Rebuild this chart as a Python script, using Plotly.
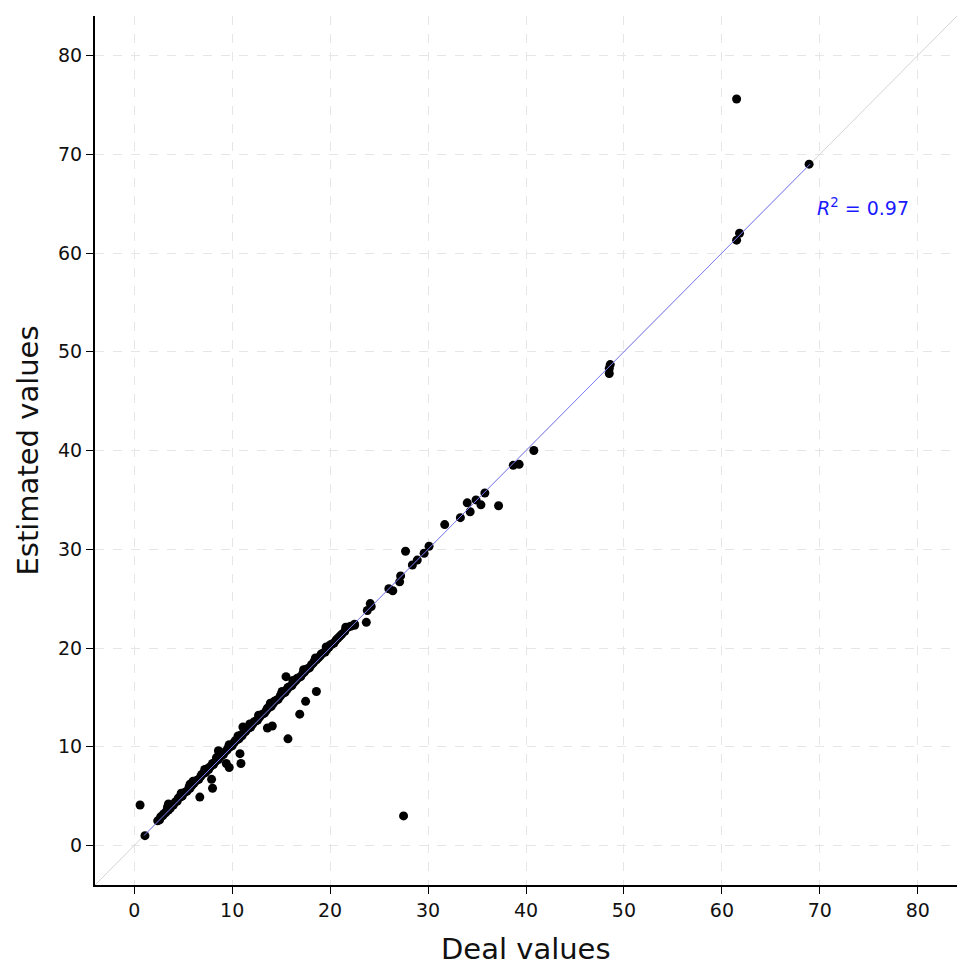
import plotly.graph_objects as go

# Dense band of points along y = x
band_x = [2.4, 2.6, 2.7, 2.9, 3.0, 3.2, 3.3, 3.5, 3.7, 3.8, 4.0, 4.2, 4.4, 4.5, 4.7, 4.9,
          5.0, 5.2, 5.4, 5.6, 5.7, 5.9, 6.1, 6.2, 6.4, 6.6, 6.8, 6.9, 7.1, 7.3, 7.5, 7.6,
          7.8, 8.0, 8.1, 8.3, 8.5, 8.6, 8.8, 9.0, 9.1, 9.3, 9.5, 9.6, 9.8, 10.0, 10.2, 10.3,
          10.5, 10.7, 10.9, 11.0, 11.2, 11.4, 11.5, 11.7, 11.9, 12.1, 12.2, 12.4, 12.6, 12.8,
          12.9, 13.1, 13.3, 13.5, 13.6, 13.8, 14.0, 14.2, 14.3, 14.5, 14.7, 14.9, 15.0, 15.2,
          15.4, 15.6, 15.7, 15.9, 16.1, 16.3, 16.5, 16.6, 16.8, 17.0, 17.2, 17.4, 17.5, 17.7,
          17.9, 18.1, 18.3, 18.4, 18.6, 18.8, 19.0, 19.1, 19.3, 19.5, 19.7, 19.9, 20.0, 20.2,
          20.4, 20.6, 20.8, 21.0, 21.2, 21.5, 21.8, 22.1, 22.5,
          3.4, 4.8, 6.0, 7.2, 8.4, 9.7, 10.6, 11.8, 12.7, 13.9, 15.1, 16.2, 17.3, 18.5, 19.6]
band_y = [2.5, 2.6, 2.9, 3.0, 3.2, 3.3, 3.5, 3.6, 3.8, 4.1, 4.1, 4.4, 4.5, 4.8, 4.9, 5.0,
          5.3, 5.4, 5.5, 5.9, 5.8, 6.1, 6.3, 6.5, 6.6, 6.7, 7.0, 7.2, 7.3, 7.4, 7.8, 7.7,
          8.0, 8.3, 8.2, 8.5, 8.8, 8.7, 9.0, 9.3, 9.2, 9.5, 9.7, 9.9, 10.0, 10.1, 10.4, 10.6,
          10.7, 10.8, 11.2, 11.1, 11.4, 11.6, 11.8, 11.9, 12.0, 12.3, 12.5, 12.6, 12.7, 13.0,
          13.2, 13.3, 13.4, 13.7, 13.9, 14.0, 14.1, 14.4, 14.6, 14.7, 14.8, 15.1, 15.3, 15.4,
          15.5, 15.8, 16.0, 16.1, 16.2, 16.5, 16.7, 16.9, 17.0, 17.1, 17.4, 17.6, 17.8, 17.9,
          18.0, 18.3, 18.5, 18.7, 18.8, 19.0, 19.2, 19.4, 19.5, 19.6, 19.9, 20.1, 20.3, 20.4,
          20.5, 20.8, 21.0, 21.2, 21.4, 21.7, 22.1, 22.2, 22.4,
          3.9, 5.3, 6.5, 7.7, 8.9, 10.2, 11.1, 12.3, 13.2, 14.4, 15.6, 16.7, 17.8, 19.0, 20.1]

# Individual / off-band points
other_x = [0.6, 1.1, 3.5, 5.7, 6.7, 8.0, 7.9, 8.6, 9.4, 9.7, 10.8, 10.9, 11.1, 13.6, 14.1,
           15.7, 15.5, 16.9, 17.5, 18.6, 21.6, 22.5, 23.7, 23.8, 24.1, 24.2, 26.0, 26.4, 27.1,
           27.2, 27.5, 27.7, 28.4, 28.9, 29.6, 30.1, 31.7, 33.3, 34.0, 34.3, 34.9, 35.4, 35.8,
           37.2, 38.7, 39.3, 40.8, 48.5, 48.5, 48.6, 61.5, 61.8, 61.5, 68.9]
other_y = [4.1, 1.0, 4.2, 6.2, 4.9, 5.8, 6.7, 9.6, 8.3, 7.9, 9.3, 8.3, 12.0, 11.9, 12.1,
           10.8, 17.1, 13.3, 14.6, 15.6, 22.1, 22.3, 22.6, 23.8, 24.5, 24.2, 26.0, 25.8, 26.7,
           27.3, 3.0, 29.8, 28.4, 28.9, 29.6, 30.3, 32.5, 33.2, 34.7, 33.8, 35.0, 34.5, 35.7,
           34.4, 38.5, 38.6, 40.0, 47.8, 48.3, 48.7, 61.3, 62.0, 75.6, 69.0]

# Fitted line
fit_x = [1.0, 69.0]
fit_slope = 1.0
fit_intercept = 0.0
r2_text = "<i>R</i><sup>2</sup> = 0.97"

ticks = [0, 10, 20, 30, 40, 50, 60, 70, 80]
axis_range = [-4, 84]
x_title = "Deal values"
y_title = "Estimated values"

xs = band_x + other_x
ys = band_y + other_y

FONT = "DejaVu Sans"
fig = go.Figure()
# identity line
fig.add_trace(go.Scatter(x=axis_range, y=axis_range, mode="lines",
                         line=dict(color="#d4d4d4", width=1), hoverinfo="skip",
                         showlegend=False))
fig.add_trace(go.Scatter(x=xs, y=ys, mode="markers",
                         marker=dict(color="black", size=9, line=dict(width=0)),
                         showlegend=False))
fig.add_trace(go.Scatter(x=fit_x, y=[fit_slope * v + fit_intercept for v in fit_x],
                         mode="lines", line=dict(color="#7c7cf5", width=1),
                         showlegend=False))

fig.add_annotation(x=74.4, y=64.7, text=r2_text, showarrow=False,
                   font=dict(color="#1a1aff", size=19, family=FONT))

fig.add_annotation(xref="paper", yref="paper", x=0.5, y=0, yshift=-64,
                   text=x_title, showarrow=False, xanchor="center", yanchor="middle",
                   font=dict(size=29, color="#111111", family=FONT))
fig.add_annotation(xref="paper", yref="paper", x=0, y=0.5, xshift=-68,
                   text=y_title, showarrow=False, textangle=-90,
                   xanchor="center", yanchor="middle",
                   font=dict(size=29, color="#111111", family=FONT))

axis_common = dict(
    range=axis_range, tickvals=ticks, ticks="outside", ticklen=7, tickwidth=1,
    tickcolor="black", showline=True, linecolor="black", linewidth=2,
    showgrid=True, gridcolor="#e6e6e6", griddash="dash", gridwidth=1,
    zeroline=False, automargin=False,
    tickfont=dict(size=19, color="#111111", family=FONT),
)

fig.update_xaxes(**axis_common)
fig.update_yaxes(**axis_common)

fig.update_layout(width=957, height=966, margin=dict(l=95, r=0, t=16, b=81),
                  plot_bgcolor="white", paper_bgcolor="white")

fix_page = ("document.body.style.margin='0';document.body.style.padding='0';"
            "document.documentElement.style.overflow='hidden';"
            "document.body.style.overflow='hidden';")
fig.write_html("out.html", post_script=fix_page, config={"displayModeBar": False})
